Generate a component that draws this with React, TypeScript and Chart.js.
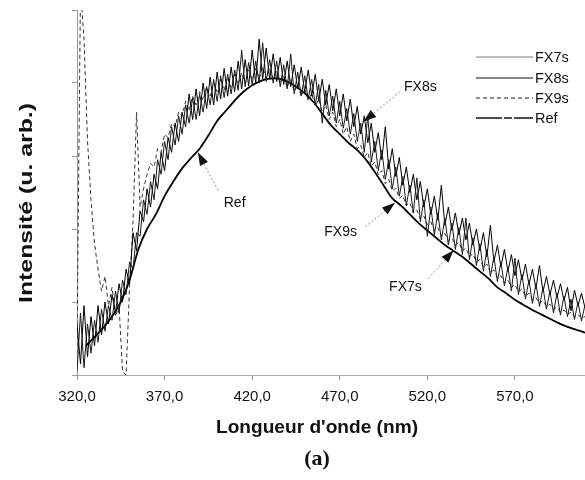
import React, { useEffect, useRef } from "react";
import { Chart, registerables } from "chart.js";

Chart.register(...registerables);

// Wavelength grid of the noisy spectra (nm)
const NOISY_START_NM = 320;
const NOISY_STEP_NM = 2;

const FX7S = [
  0.05, 0.85, 0.10, 0.70, 0.30, 0.75, 0.45, 0.90, 0.60, 0.95,
  0.75, 1.15, 0.85, 1.30, 1.10, 1.55, 1.45, 1.95, 1.90, 2.40,
  2.20, 2.65, 2.40, 2.95, 2.75, 3.20, 2.95, 3.40, 3.15, 3.55,
  3.30, 3.70, 3.45, 3.80, 3.50, 3.85, 3.60, 3.95, 3.70, 4.05,
  3.75, 4.10, 3.80, 4.12, 3.85, 4.18, 3.90, 4.45, 3.95, 4.28,
  3.98, 4.30, 4.00, 4.55, 4.02, 4.32, 4.00, 4.30, 3.95, 4.25,
  3.92, 4.40, 3.85, 4.15, 3.82, 4.10, 3.78, 4.05, 3.70, 3.98,
  3.45, 3.90, 3.55, 3.82, 3.45, 3.75, 3.38, 3.65, 3.30, 3.58,
  3.20, 3.45, 3.05, 3.55, 2.92, 3.20, 2.80, 3.08, 2.68, 2.95,
  2.55, 2.85, 2.45, 2.72, 2.32, 2.60, 2.22, 2.70, 2.10, 2.40,
  1.90, 2.30, 1.92, 2.22, 1.85, 2.15, 1.78, 2.08, 1.72, 2.02,
  1.65, 2.15, 1.58, 1.88, 1.50, 1.80, 1.42, 1.72, 1.35, 1.62,
  1.28, 1.55, 1.22, 1.48, 1.15, 1.60, 1.10, 1.38, 1.04, 1.30,
  0.98, 1.25, 0.94, 1.20, 0.90, 1.15, 0.85, 1.12, 0.82, 1.08,
  0.80, 1.04, 0.76, 1.00, 0.74, 0.96,
];

const FX8S = [
  0.70, 0.15, 0.95, 0.25, 0.80, 0.40, 0.95, 0.55, 1.00, 0.70,
  1.10, 0.85, 1.25, 1.00, 1.45, 1.25, 1.95, 1.70, 2.25, 2.10,
  2.55, 2.30, 2.75, 2.55, 3.05, 2.80, 3.25, 3.05, 3.45, 3.20,
  3.60, 3.40, 3.85, 3.50, 3.92, 3.55, 4.00, 3.65, 4.08, 3.70,
  4.15, 3.78, 4.20, 3.82, 4.22, 3.88, 4.30, 3.92, 4.32, 3.96,
  4.45, 4.00, 4.60, 4.05, 4.48, 4.05, 4.40, 4.02, 4.35, 3.98,
  4.30, 3.95, 4.25, 3.92, 4.22, 3.88, 4.18, 3.82, 4.12, 3.75,
  4.05, 3.70, 3.98, 3.62, 3.92, 3.55, 3.85, 3.48, 3.78, 3.40,
  3.68, 3.30, 3.55, 3.18, 3.45, 3.05, 3.32, 2.95, 3.40, 2.82,
  3.10, 2.72, 2.98, 2.60, 2.85, 2.50, 2.75, 2.40, 2.65, 2.30,
  2.55, 2.20, 2.45, 2.12, 2.60, 2.05, 2.30, 1.98, 2.22, 1.92,
  2.15, 1.85, 2.08, 1.78, 2.00, 1.70, 1.95, 1.62, 2.05, 1.55,
  1.78, 1.48, 1.72, 1.42, 1.65, 1.36, 1.58, 1.30, 1.52, 1.24,
  1.45, 1.18, 1.50, 1.14, 1.35, 1.10, 1.30, 1.06, 1.25, 1.02,
  1.20, 0.88, 1.16, 0.95, 1.12, 0.92,
];

const FX9S = [
  0.40, 5.30, 4.60, 3.20, 2.40, 1.80, 1.45, 1.15, 1.35, 0.95,
  1.20, 0.80, 0.95, 0.05, 0.00, 1.20, 2.10, 3.60, 2.30, 2.55,
  2.75, 2.90, 2.85, 3.10, 3.05, 3.30, 3.25, 3.45, 3.40, 3.60,
  3.55, 3.75, 3.62, 3.82, 3.70, 3.88, 3.76, 3.95, 3.82, 4.00,
  3.88, 4.05, 3.90, 4.08, 3.94, 4.12, 3.98, 4.14, 4.00, 4.18,
  4.04, 4.20, 4.06, 4.22, 4.06, 4.20, 4.04, 4.16, 4.00, 4.10,
  3.94, 4.05, 3.88, 3.98, 3.82, 3.92, 3.76, 3.86, 3.68, 3.78,
  3.60, 3.70, 3.50, 3.60, 3.40, 3.50, 3.30, 3.40, 3.20, 3.30,
  3.10, 3.15, 2.98, 3.05, 2.86, 2.92, 2.74, 2.80, 2.62, 2.68,
  2.52, 2.56, 2.42, 2.46, 2.32, 2.36, 2.22, 2.26, 2.14, 2.18,
  2.06, 2.10, 1.98, 2.02, 1.90, 1.94, 1.84, 1.88, 1.78, 1.82,
  1.70, 1.74, 1.62, 1.66, 1.55, 1.58, 1.48, 1.52, 1.40, 1.44,
  1.33, 1.36, 1.26, 1.30, 1.20, 1.24, 1.14, 1.18, 1.08, 1.12,
  1.03, 1.06, 0.98, 1.02, 0.94, 0.97, 0.90, 0.93, 0.86, 0.89,
  0.83, 0.86, 0.80, 0.83, 0.78, 0.80,
];

const REF_NM = [
  325, 330, 335, 340, 345, 350, 355, 360, 365, 370, 375, 380, 385, 390, 395,
  400, 405, 410, 415, 420, 425, 430, 435, 440, 445, 450, 455, 460, 465, 470,
  475, 480, 485, 490, 495, 500, 505, 510, 515, 520, 525, 530, 535, 540, 545,
  550, 555, 560, 565, 570, 575, 580, 585, 590, 595, 600, 605, 610,
];
const REF = [
  0.40, 0.52, 0.65, 0.80, 1.00, 1.30, 1.72, 2.00, 2.20, 2.45, 2.65, 2.83, 2.97, 3.10, 3.28,
  3.48, 3.62, 3.76, 3.88, 3.97, 4.03, 4.06, 4.06, 4.02, 3.95, 3.86, 3.74, 3.58, 3.42, 3.30,
  3.18, 3.08, 2.95, 2.78, 2.60, 2.42, 2.32, 2.20, 2.08, 1.98, 1.88, 1.78, 1.70, 1.62, 1.52,
  1.42, 1.32, 1.20, 1.12, 1.03, 0.96, 0.89, 0.83, 0.77, 0.71, 0.66, 0.62, 0.58,
];

const X_TICKS = [320, 370, 420, 470, 520, 570];
const SERIES_NAMES = ["FX7s", "FX8s", "FX9s", "Ref"];

// Callout labels: [text, labelNm, labelValue, tailNm, tailValue, tipNm, tipValue]
const CALLOUTS: [string, number, number, number, number, number, number][] = [
  ["FX8s", 516, 3.95, 504.5, 3.88, 483.5, 3.47],
  ["Ref", 410, 2.36, 400.5, 2.53, 389, 3.05],
  ["FX9s", 470.5, 1.96, 484.5, 2.03, 501.5, 2.36],
  ["FX7s", 507.5, 1.21, 520.5, 1.32, 535, 1.71],
];

const FONT = "'Liberation Sans', Arial, sans-serif";

function grid(values: number[]) {
  return values.map((v, i) => ({ x: NOISY_START_NM + i * NOISY_STEP_NM, y: v }));
}

function fitText(ctx: CanvasRenderingContext2D, text: string, x: number, y: number, width: number, rotate: boolean) {
  const w = ctx.measureText(text).width;
  ctx.save();
  ctx.translate(x, y);
  if (rotate) ctx.rotate(-Math.PI / 2);
  ctx.scale(width / w, 1);
  ctx.fillText(text, 0, 0);
  ctx.restore();
}

const overlay = {
  id: "overlay",
  afterDraw(chart: any) {
    const { ctx, scales } = chart;
    const xs = scales.x;
    const ys = scales.y;
    ctx.save();
    ctx.fillStyle = "#111";
    // axis titles
    ctx.textAlign = "center";
    ctx.textBaseline = "middle";
    ctx.font = `bold 18px ${FONT}`;
    fitText(ctx, "Longueur d'onde (nm)", 317, 428, 202, false);
    ctx.font = `bold 18px ${FONT}`;
    fitText(ctx, "Intensité (u. arb.)", 27, 203, 200, true);
    ctx.font = "bold 22px 'Liberation Serif', 'Times New Roman', serif";
    ctx.fillText("(a)", 317, 459);

    // legend
    const legendY = [57, 78, 98, 118];
    const dashes = [[], [], [4, 3], [26, 2, 8, 2]];
    const widths = [0.8, 1.2, 1.0, 1.3];
    const colors = ["#555", "#111", "#222", "#111"];
    ctx.font = `14.5px ${FONT}`;
    ctx.textAlign = "left";
    SERIES_NAMES.forEach((name, i) => {
      ctx.beginPath();
      ctx.setLineDash(dashes[i]);
      ctx.lineWidth = widths[i];
      ctx.strokeStyle = colors[i];
      ctx.moveTo(476, legendY[i]);
      ctx.lineTo(533, legendY[i]);
      ctx.stroke();
      ctx.setLineDash([]);
      ctx.fillStyle = "#111";
      ctx.fillText(name, 535, legendY[i] + 1);
    });

    // callouts
    ctx.font = `14px ${FONT}`;
    ctx.textAlign = "center";
    CALLOUTS.forEach(([text, lx, ly, tx, ty, px, py]) => {
      const LX = xs.getPixelForValue(lx);
      const LY = ys.getPixelForValue(ly);
      const TX = xs.getPixelForValue(tx);
      const TY = ys.getPixelForValue(ty);
      const PX = xs.getPixelForValue(px);
      const PY = ys.getPixelForValue(py);
      ctx.fillStyle = "#111";
      ctx.fillText(text, LX, LY);
      ctx.beginPath();
      ctx.setLineDash([2, 2]);
      ctx.strokeStyle = "#777";
      ctx.lineWidth = 0.8;
      ctx.moveTo(TX, TY);
      ctx.lineTo(PX, PY);
      ctx.stroke();
      ctx.setLineDash([]);
      const ang = Math.atan2(PY - TY, PX - TX);
      const len = 13;
      const hw = 4.5;
      const bx = PX - len * Math.cos(ang);
      const by = PY - len * Math.sin(ang);
      ctx.beginPath();
      ctx.moveTo(PX, PY);
      ctx.lineTo(bx + hw * Math.sin(ang), by - hw * Math.cos(ang));
      ctx.lineTo(bx - hw * Math.sin(ang), by + hw * Math.cos(ang));
      ctx.closePath();
      ctx.fillStyle = "#111";
      ctx.fill();
    });
    ctx.restore();
  },
};

export default function App() {
  const ref = useRef<HTMLCanvasElement | null>(null);
  useEffect(() => {
    if (!ref.current) return;
    const chart = new Chart(ref.current, {
      type: "line",
      data: {
        datasets: [
          {
            label: "FX7s",
            data: grid(FX7S),
            borderColor: "#1a1a1a",
            borderWidth: 1,
            pointRadius: 0,
            tension: 0,
          },
          {
            label: "FX8s",
            data: grid(FX8S),
            borderColor: "#000",
            borderWidth: 1,
            pointRadius: 0,
            tension: 0,
          },
          {
            label: "FX9s",
            data: grid(FX9S),
            borderColor: "#333",
            borderWidth: 1,
            borderDash: [4, 3],
            pointRadius: 0,
            tension: 0,
          },
          {
            label: "Ref",
            data: REF_NM.map((x, i) => ({ x, y: REF[i] })),
            borderColor: "#000",
            borderWidth: 1.8,
            pointRadius: 0,
            tension: 0.3,
          },
        ],
      },
      options: {
        responsive: false,
        animation: false,
        layout: { padding: { top: 10, right: 0, left: 0, bottom: 0 } },
        plugins: { legend: { display: false }, tooltip: { enabled: false } },
        scales: {
          x: {
            type: "linear",
            min: 320,
            max: 610,
            afterBuildTicks: (s: any) => {
              s.ticks = X_TICKS.map((v) => ({ value: v }));
            },
            afterFit: (s: any) => {
              s.height = 105;
            },
            ticks: {
              padding: 8,
              font: { family: FONT, size: 15 },
              color: "#111",
              callback: (v: any) => Number(v).toFixed(1).replace(".", ","),
            },
            grid: { drawOnChartArea: false, drawTicks: true, tickLength: 5, color: "#999" },
            border: { display: true, color: "#aaa", dash: [5, 5], width: 1 },
          },
          y: {
            min: 0,
            max: 5,
            afterFit: (s: any) => {
              s.width = 77;
            },
            ticks: { display: false, stepSize: 1 },
            grid: { drawOnChartArea: false, drawTicks: true, tickLength: 5, color: "#999" },
            border: { display: true, color: "#999", dash: [6, 4], width: 1 },
          },
        },
      },
      plugins: [overlay],
    });
    return () => chart.destroy();
  }, []);
  return (
    <div style={{ position: "fixed", left: 0, top: 0, width: 585, height: 480, background: "#fff" }}>
      <canvas ref={ref} width={585} height={480} />
    </div>
  );
}
